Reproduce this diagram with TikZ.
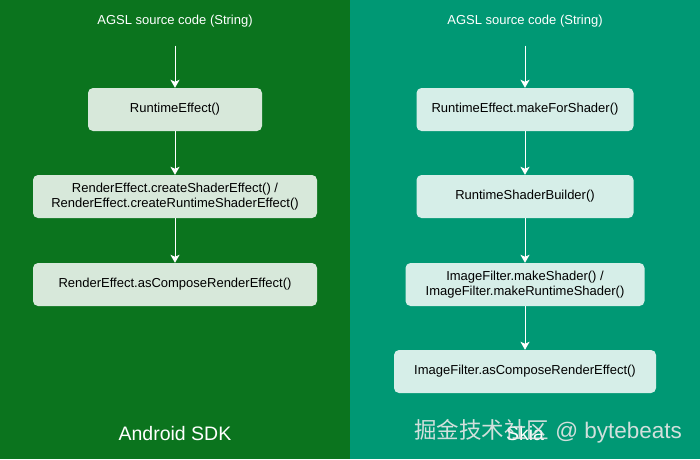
\documentclass[tikz,border=0pt]{standalone}
\usepackage{fontspec}
\setmainfont{Liberation Sans}
\newfontfamily\cjk{Noto Sans CJK SC}
\usepackage{tikz}
\usetikzlibrary{arrows.meta}
\usepackage{xcolor}
\definecolor{sdkgreen}{RGB}{11,116,30}
\definecolor{skiateal}{RGB}{0,152,116}

\begin{document}
\begin{tikzpicture}[x=1pt,y=-1pt,>={Stealth[length=8pt,width=9pt,inset=2pt]},font=\fontsize{13}{15.5}\selectfont,
  fnbox/.style={rounded corners=5pt,fill=white,fill opacity=0.84,text opacity=1,minimum height=43pt,align=center,inner sep=0pt},
  srclabel/.style={text=white,font=\fontsize{13}{15}\selectfont},
  flow/.style={->,white,line width=0.9pt}]
\fill[sdkgreen] (0,0) rectangle (350,459);
\fill[skiateal] (350,0) rectangle (700,459);
% Android SDK
\node[srclabel] (src1) at (175,21) {AGSL source code (String)};
\node[fnbox,minimum width=174pt] (rte1) at (175,109.5) {RuntimeEffect()};
\node[fnbox,minimum width=284pt] (cse) at (175,196.5) {RenderEffect.createShaderEffect() /\\RenderEffect.createRuntimeShaderEffect()};
\node[fnbox,minimum width=284pt] (cre1) at (175,284.5) {RenderEffect.asComposeRenderEffect()};
\node[text=white,font=\fontsize{19.5}{23}\selectfont] (sdk) at (175,434) {Android SDK};
\draw[flow,shorten <=15pt] (src1) -- (rte1);
\draw[flow] (rte1) -- (cse);
\draw[flow] (cse) -- (cre1);
% Skia
\node[srclabel] (src2) at (525,21) {AGSL source code (String)};
\node[fnbox,minimum width=217pt] (rte2) at (525,109.5) {RuntimeEffect.makeForShader()};
\node[fnbox,minimum width=217pt] (rsb) at (525,196.5) {RuntimeShaderBuilder()};
\node[fnbox,minimum width=239pt] (mks) at (525,284.5) {ImageFilter.makeShader() /\\ImageFilter.makeRuntimeShader()};
\node[fnbox,minimum width=262pt] (cre2) at (525,371.5) {ImageFilter.asComposeRenderEffect()};
\node[text=white,font=\fontsize{19.5}{23}\selectfont] (skia) at (525,434) {Skia};
\draw[flow,shorten <=15pt] (src2) -- (rte2);
\draw[flow] (rte2) -- (rsb);
\draw[flow] (rsb) -- (mks);
\draw[flow] (mks) -- (cre2);
\node[text=white!82!gray,text opacity=0.9,font=\fontsize{22.5}{26}\selectfont] (mark) at (548,431) {{\cjk 掘金技术社区} @ bytebeats};
\end{tikzpicture}
\end{document}
